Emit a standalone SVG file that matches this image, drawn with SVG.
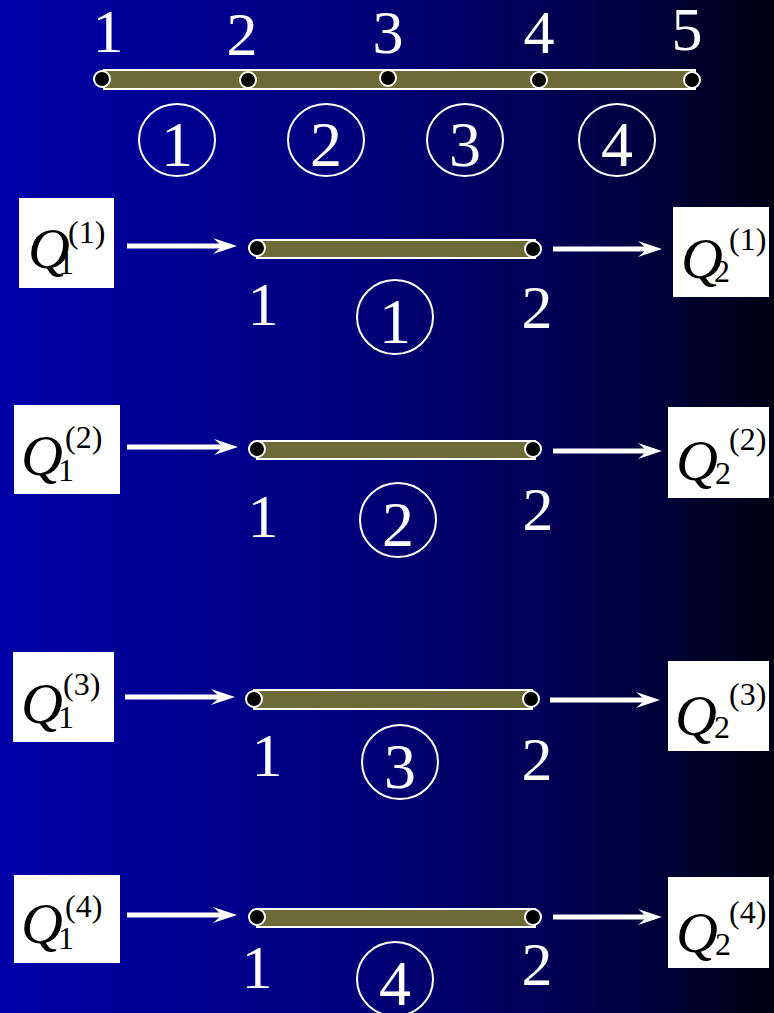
<svg xmlns="http://www.w3.org/2000/svg" width="774" height="1013" viewBox="0 0 774 1013">
<defs>
<linearGradient id="bg" x1="0" y1="0" x2="1" y2="0">
<stop offset="0" stop-color="#0000a8"/>
<stop offset="0.45" stop-color="#00007c"/>
<stop offset="0.8" stop-color="#000046"/>
<stop offset="1" stop-color="#000012"/>
</linearGradient>
<marker id="ah" markerUnits="userSpaceOnUse" markerWidth="26" markerHeight="18" viewBox="0 0 26 18" refX="9" refY="8" orient="auto">
<path d="M0,0 L24,8 L0,16 L9,8 Z" fill="#fff"/>
</marker>
</defs>
<style>
.bar{fill:#6b6b37;stroke:#fff;stroke-width:2}
.nd{fill:#000;stroke:#fff;stroke-width:2}
.lab{font-size:62px;fill:#fff;text-anchor:middle}
.cl{fill:none;stroke:#fff;stroke-width:2}
.cn{font-size:64px;fill:#fff;text-anchor:middle}
.box{fill:#fff}
.q{font-size:58px;fill:#000}
.qi{font-style:italic}
.s{font-size:32px;font-style:normal}
.arr{stroke:#fff;stroke-width:5;fill:none;marker-end:url(#ah)}
</style>
<rect x="0" y="0" width="774" height="1013" fill="url(#bg)"/>
<g font-family="Liberation Serif, Times New Roman, DejaVu Serif, serif">
<g id="top-beam">
<rect class="bar" x="104" y="70" width="591" height="19"/>
<circle class="nd" cx="102" cy="79" r="8"/>
<circle class="nd" cx="248" cy="80" r="8"/>
<circle class="nd" cx="388" cy="78" r="8"/>
<circle class="nd" cx="539" cy="80" r="8"/>
<circle class="nd" cx="692" cy="80" r="8"/>
<text class="lab" x="108" y="52">1</text>
<text class="lab" x="242" y="55">2</text>
<text class="lab" x="388" y="53">3</text>
<text class="lab" x="539" y="53">4</text>
<text class="lab" x="687" y="50">5</text>
</g>
<g id="top-el1"><ellipse class="cl" cx="177" cy="140" rx="38" ry="36"/><text class="cn" x="177" y="166">1</text></g>
<g id="top-el2"><ellipse class="cl" cx="326" cy="140" rx="38" ry="36"/><text class="cn" x="326" y="166">2</text></g>
<g id="top-el3"><ellipse class="cl" cx="465" cy="140" rx="38" ry="36"/><text class="cn" x="465" y="166">3</text></g>
<g id="top-el4"><ellipse class="cl" cx="617" cy="140" rx="38" ry="36"/><text class="cn" x="617" y="166">4</text></g>

<!-- Row 1 -->
<g id="q1-1"><rect class="box" x="19" y="198" width="95" height="90"/>
<text class="q"><tspan class="qi" x="28" y="268">Q</tspan><tspan class="s" x="58" y="274">1</tspan><tspan class="s" x="68" y="243">(1)</tspan></text></g>
<g id="el1">
<rect class="bar" x="257" y="240" width="278" height="18"/>
<circle class="nd" cx="257" cy="248" r="8"/>
<circle class="nd" cx="533" cy="249" r="8"/>
<text class="lab" x="263" y="325">1</text>
<text class="lab" x="537" y="328">2</text>
<ellipse class="cl" cx="395" cy="317" rx="38" ry="37"/><text class="cn" x="395" y="343">1</text>
</g>
<g id="q2-1"><rect class="box" x="673" y="207" width="96" height="90"/>
<text class="q"><tspan class="qi" x="681" y="278">Q</tspan><tspan class="s" x="714" y="282">2</tspan><tspan class="s" x="729" y="250">(1)</tspan></text></g>

<!-- Row 2 -->
<g id="q1-2"><rect class="box" x="14" y="405" width="106" height="89"/>
<text class="q"><tspan class="qi" x="21" y="475">Q</tspan><tspan class="s" x="58" y="481">1</tspan><tspan class="s" x="65" y="448">(2)</tspan></text></g>
<g id="el2">
<rect class="bar" x="257" y="441" width="278" height="18"/>
<circle class="nd" cx="257" cy="449" r="8"/>
<circle class="nd" cx="533" cy="449" r="8"/>
<text class="lab" x="263" y="537">1</text>
<text class="lab" x="538" y="530">2</text>
<ellipse class="cl" cx="398" cy="520" rx="38" ry="37"/><text class="cn" x="398" y="546">2</text>
</g>
<g id="q2-2"><rect class="box" x="668" y="407" width="101" height="91"/>
<text class="q"><tspan class="qi" x="676" y="480">Q</tspan><tspan class="s" x="715" y="484">2</tspan><tspan class="s" x="729" y="450">(2)</tspan></text></g>

<!-- Row 3 -->
<g id="q1-3"><rect class="box" x="13" y="652" width="101" height="90"/>
<text class="q"><tspan class="qi" x="21" y="723">Q</tspan><tspan class="s" x="58" y="728">1</tspan><tspan class="s" x="63" y="695">(3)</tspan></text></g>
<g id="el3">
<rect class="bar" x="254" y="690" width="278" height="19"/>
<circle class="nd" cx="254" cy="699" r="8"/>
<circle class="nd" cx="531" cy="699" r="8"/>
<text class="lab" x="267" y="776">1</text>
<text class="lab" x="537" y="780">2</text>
<ellipse class="cl" cx="400" cy="762" rx="38" ry="37"/><text class="cn" x="400" y="788">3</text>
</g>
<g id="q2-3"><rect class="box" x="668" y="661" width="101" height="90"/>
<text class="q"><tspan class="qi" x="675" y="735">Q</tspan><tspan class="s" x="714" y="738">2</tspan><tspan class="s" x="729" y="705">(3)</tspan></text></g>

<!-- Row 4 -->
<g id="q1-4"><rect class="box" x="14" y="875" width="106" height="88"/>
<text class="q"><tspan class="qi" x="21" y="943">Q</tspan><tspan class="s" x="58" y="949">1</tspan><tspan class="s" x="65" y="917">(4)</tspan></text></g>
<g id="el4">
<rect class="bar" x="257" y="909" width="278" height="18"/>
<circle class="nd" cx="257" cy="917" r="8"/>
<circle class="nd" cx="533" cy="917" r="8"/>
<text class="lab" x="257" y="988">1</text>
<text class="lab" x="537" y="985">2</text>
<ellipse class="cl" cx="395" cy="979" rx="38" ry="37"/><text class="cn" x="395" y="1005">4</text>
</g>
<g id="q2-4"><rect class="box" x="668" y="877" width="101" height="91"/>
<text class="q"><tspan class="qi" x="676" y="952">Q</tspan><tspan class="s" x="715" y="955">2</tspan><tspan class="s" x="729" y="923">(4)</tspan></text></g>
</g>
<g id="connectors">
<line class="arr" x1="127" y1="246" x2="222" y2="246"/>
<line class="arr" x1="553" y1="249" x2="647" y2="249"/>
<line class="arr" x1="127" y1="447" x2="223" y2="447"/>
<line class="arr" x1="553" y1="451" x2="647" y2="451"/>
<line class="arr" x1="125" y1="697" x2="220" y2="697"/>
<line class="arr" x1="550" y1="700" x2="645" y2="700"/>
<line class="arr" x1="127" y1="915" x2="222" y2="915"/>
<line class="arr" x1="553" y1="917" x2="647" y2="917"/>
</g>
</svg>
